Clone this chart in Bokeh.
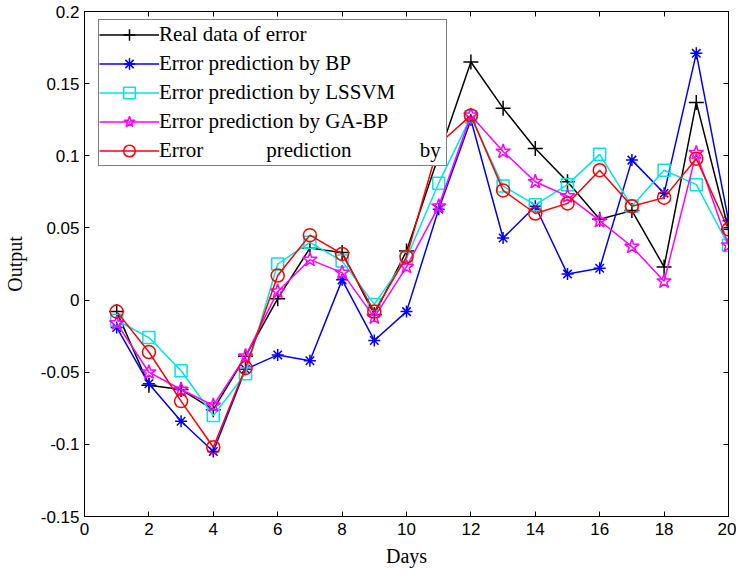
from bokeh.plotting import figure
from bokeh.models import Range1d, FixedTicker, CustomJSTickFormatter, LinearAxis, Legend, LegendItem
from bokeh.embed import file_html
from bokeh.resources import INLINE

days = list(range(1, 21))
real = [-0.008, -0.059, -0.062, -0.076, -0.039, 0.001, 0.036, 0.033, -0.010, 0.034,
        0.100, 0.165, 0.133, 0.105, 0.082, 0.056, 0.062, 0.023, 0.137, 0.049]
bp = [-0.019, -0.058, -0.084, -0.105, -0.048, -0.038, -0.042, 0.014, -0.028, -0.008,
      0.063, 0.125, 0.043, 0.065, 0.018, 0.022, 0.097, 0.074, 0.171, 0.055]
lssvm = [-0.014, -0.026, -0.049, -0.080, -0.051, 0.025, 0.040, 0.027, -0.003, 0.029,
         0.081, 0.127, 0.079, 0.066, 0.080, 0.101, 0.065, 0.090, 0.080, 0.038]
gabp = [-0.016, -0.050, -0.062, -0.073, -0.039, 0.006, 0.028, 0.019, -0.012, 0.023,
        0.065, 0.128, 0.103, 0.082, 0.072, 0.055, 0.037, 0.013, 0.102, 0.038]
galssvm = [-0.008, -0.036, -0.070, -0.102, -0.047, 0.017, 0.045, 0.032, -0.008, 0.030,
           0.108, 0.128, 0.076, 0.060, 0.067, 0.090, 0.065, 0.071, 0.098, 0.049]

x_ticks = [0, 2, 4, 6, 8, 10, 12, 14, 16, 18, 20]
y_ticks = [-0.15, -0.1, -0.05, 0, 0.05, 0.1, 0.15, 0.2]

NB = "\u00a0"
labels = ["Real data of error", "Error prediction by BP", "Error prediction by LSSVM",
          "Error prediction by GA-BP",
          "Error" + NB * 12 + "prediction" + NB * 13 + "by" + NB]

p = figure(frame_width=644, frame_height=505, output_backend="svg", toolbar_location=None,
           x_range=Range1d(0, 20), y_range=Range1d(-0.15, 0.2),
           min_border_left=84, min_border_top=11, min_border_right=8, min_border_bottom=45)
p.background_fill_color = "white"
p.border_fill_color = "white"
p.outline_line_color = "black"
p.outline_line_width = 1
p.xgrid.visible = False
p.ygrid.visible = False

fmt = CustomJSTickFormatter(code="return tick.toFixed(2).replace(/0+$/,'').replace(/\\.$/,'');")
blank = CustomJSTickFormatter(code="return '';")
tick_font = "'Liberation Sans', Arial, sans-serif"
serif = "'Liberation Serif', 'Times New Roman', serif"

for ax, ticks in ((p.xaxis[0], x_ticks), (p.yaxis[0], y_ticks)):
    ax.ticker = FixedTicker(ticks=ticks)
    ax.major_tick_in = 5
    ax.major_tick_out = 0
    ax.minor_tick_line_color = None
    ax.axis_line_color = "black"
    ax.major_tick_line_color = "black"
    ax.major_label_text_font = tick_font
    ax.major_label_text_font_size = "17px"
    ax.major_label_text_color = "black"
    ax.axis_label_text_font = serif
    ax.axis_label_text_font_style = "normal"
    ax.axis_label_text_font_size = "20px"
    ax.axis_label_text_color = "black"
p.yaxis[0].formatter = fmt
p.xaxis[0].axis_label = "Days"
p.yaxis[0].axis_label = "Output"
p.xaxis[0].major_label_standoff = 6
p.xaxis[0].axis_label_standoff = 7
p.yaxis[0].major_label_standoff = 5
p.yaxis[0].axis_label_standoff = 12

top = LinearAxis(ticker=FixedTicker(ticks=x_ticks), formatter=blank, major_tick_in=5,
                 major_tick_out=0, minor_tick_line_color=None, major_label_standoff=0)
right = LinearAxis(ticker=FixedTicker(ticks=y_ticks), formatter=blank, major_tick_in=5,
                   major_tick_out=0, minor_tick_line_color=None, major_label_standoff=0)
p.add_layout(top, "above")
p.add_layout(right, "right")

series = [
    (real, "black", "cross", 15),
    (bp, "#0000ff", "asterisk", 12),
    (lssvm, "#00e5e5", "square", 12),
    (gabp, "#ff00ff", "star", 15),
    (galssvm, "#ff0000", "circle", 13),
]

items = []
for (vals, col, mk, sz), lab in zip(series, labels):
    l = p.line(days, vals, line_color=col, line_width=1.5)
    s = p.scatter(days, vals, marker=mk, size=sz, line_color=col, fill_color=None, line_width=1.5)
    items.append(LegendItem(label=lab, renderers=[l, s]))

legend = Legend(items=items, location=(14, 350), padding=0, spacing=0,
                glyph_width=60, glyph_height=29, label_height=29, label_standoff=0,
                label_text_font=serif, label_text_font_size="21px", label_text_color="black",
                border_line_color="black", border_line_width=1,
                background_fill_color="white", background_fill_alpha=1.0, margin=0)
p.add_layout(legend, "center")

open("out.html", "w").write(file_html(p, INLINE))
